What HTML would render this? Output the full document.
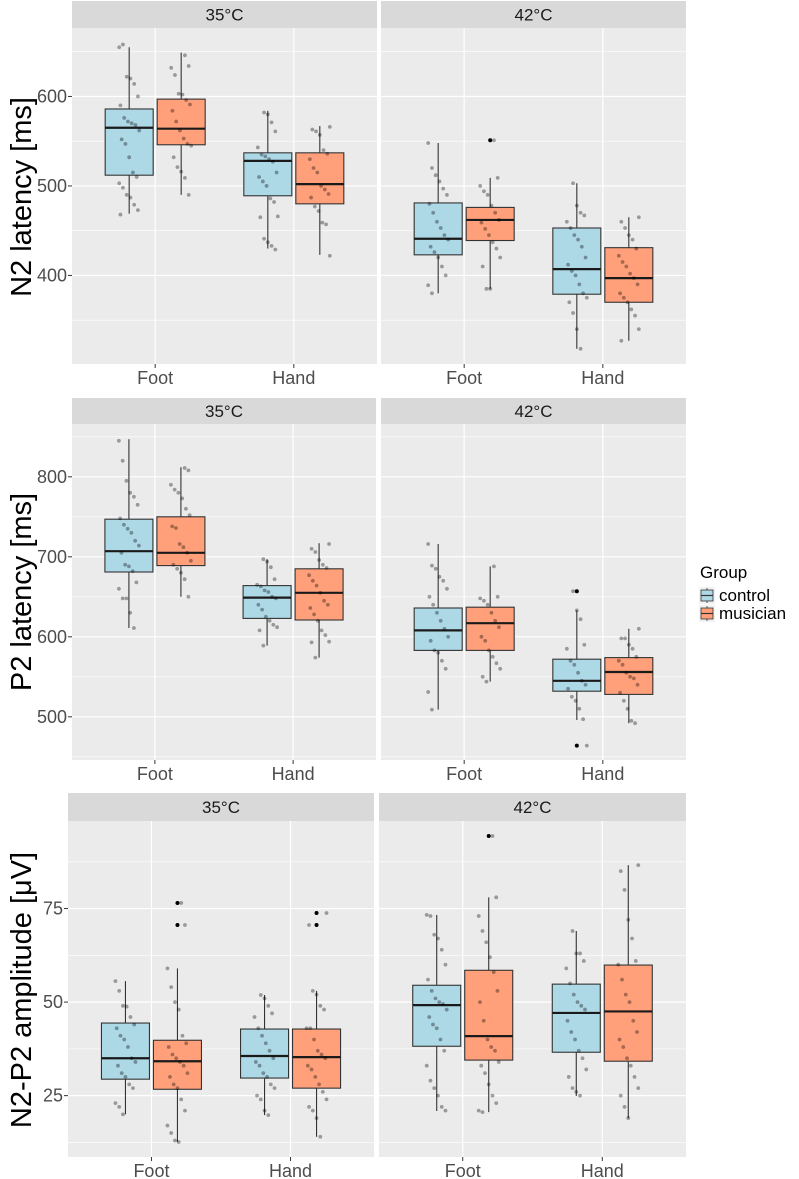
<!DOCTYPE html>
<html><head><meta charset="utf-8"><style>
html,body{margin:0;padding:0;background:#fff;}
svg{display:block;font-family:"Liberation Sans",Arial,sans-serif;}
</style></head><body>
<svg id="chart" width="799" height="1179" viewBox="0 0 799 1179" xmlns="http://www.w3.org/2000/svg"></svg>
<script>
// ---- data ----
const categories = ["Foot","Hand"];
const groups = ["control","musician"];
const temps = ["35°C","42°C"];
const yTitles = ["N2 latency [ms]","P2 latency [ms]","N2-P2 amplitude [μV]"];
const n2Ticks = [400,500,600];
const p2Ticks = [500,600,700,800];
const ampTicks = [25,50,75];
// box stats per box: [whiskerLow, q1, median, q3, whiskerHigh]; order Foot-control, Foot-musician, Hand-control, Hand-musician
const n2Box35 = [[469,512,565,586,655],[490,546,564,597,649],[430,489,528,537,584],[423,480,502,537,567]];
const n2Box42 = [[380,423,441,481,548],[385,439,462,476,509],[318,379,407,453,503],[327,370,397,431,465]];
const p2Box35 = [[611,681,707,747,847],[650,689,705,750,812],[589,623,649,664,697],[574,621,655,685,717]];
const p2Box42 = [[509,583,608,636,716],[544,583,617,637,688],[496,532,545,572,633],[492,528,556,574,610]];
const ampBox35 = [[20,29.4,35,44.4,55.6],[12.6,26.7,34.2,39.8,59],[19.8,29.7,35.6,42.8,51.9],[14,27,35.3,42.8,53]];
const ampBox42 = [[20.9,38.2,49.2,54.5,73.3],[20.6,34.5,40.9,58.5,78],[24.9,36.6,47.1,54.8,69],[19,34.2,47.5,59.9,86.6]];
const n2Out35 = [[],[],[],[]];
const n2Out42 = [[],[551],[],[]];
const p2Out35 = [[],[],[],[]];
const p2Out42 = [[],[],[657,464],[]];
const ampOut35 = [[],[76.5,70.6],[],[73.8,70.6]];
const ampOut42 = [[],[94.4],[],[]];
const n2Pts35 = [[655,658,622,620,614,600,590,576,572,570,568,562,552,547,532,515,510,503,498,490,487,479,473,468],
 [646,634,632,624,603,602,596,591,584,572,562,553,547,545,532,521,516,509,490],
 [582,580,571,561,543,535,533,530,527,515,510,505,500,486,482,466,465,441,437,433,429],
 [566,563,561,557,540,536,530,520,515,500,496,491,487,477,472,459,457,422]];
const n2Pts42 = [[548,520,512,505,497,490,480,470,460,453,445,440,432,426,420,410,400,389,380],
 [551,509,500,494,490,478,470,462,459,452,445,437,430,420,410,385,385],
 [503,478,470,467,460,453,445,440,432,420,412,405,400,390,380,375,370,358,340,318],
 [465,460,453,445,440,430,422,415,410,402,397,390,380,375,370,362,355,340,327]];
const p2Pts35 = [[845,820,795,780,775,765,748,740,735,730,720,714,705,690,688,682,668,660,648,648,630,611],
 [811,808,790,784,780,773,760,752,738,736,716,712,705,695,690,685,680,672,650],
 [697,694,687,672,665,663,658,656,650,648,640,634,625,620,615,612,608,589],
 [716,710,706,696,690,686,677,670,664,655,645,640,636,628,620,608,602,594,593,574]];
const p2Pts42 = [[716,689,685,675,670,660,650,640,630,620,610,600,595,583,580,570,560,531,509],
 [688,650,648,645,640,630,620,612,600,595,583,575,567,560,550,544],
 [657,633,622,590,585,570,565,555,545,540,535,525,520,510,497,464],
 [610,598,598,590,585,575,570,565,555,550,548,540,530,520,510,495,492]];
const ampPts35 = [[55.6,53,49,48.8,46,44,43,41,40,38,35,34,33,31,30,28,27,23,22,20],
 [76.5,70.6,59,54,50,48,41,39,38,36,35,34,33,31,30,28,27,24,21,17,15,13,12.6],
 [51.9,51,49,47,46,43,41,39,37,35,34,33,31,30,28,27,25,24,21,19.8],
 [73.8,70.6,53,52,49,48,43,43,40,37,36,35,33,32,30,28,26,24,22,21,19,14]];
const ampPts42 = [[73.3,73,68,67,64,60,56,53,51,50,49.5,48,46,44,43,40,37,33,29,27,25,22,21],
 [94.4,78,73,69,66,62,58,53,50,45,40,38,37,34,33,31,28,25,23,21,20.6],
 [69,63,63,61,59,55,52,50,49,48,45,42,40,37,35,32,30,27,26,25],
 [86.6,85,80,72,67,61,60,56,52,50,45,42,40,38,35,33,30,27,25,22,19]];

// ---- layout ----
const rows = [
 {title:yTitles[0], ticks:n2Ticks, minorStep:50, dom:[301,676.5], top:28, bottom:364, stripTop:1, panels:[[72,377],[381,686]], tcx:31, tcy:197,
  boxes:[n2Box35,n2Box42], outs:[n2Out35,n2Out42], pts:[n2Pts35,n2Pts42]},
 {title:yTitles[1], ticks:p2Ticks, minorStep:50, dom:[446,866], top:424, bottom:760, stripTop:398, panels:[[72,376],[381,686]], tcx:31, tcy:592,
  boxes:[p2Box35,p2Box42], outs:[p2Out35,p2Out42], pts:[p2Pts35,p2Pts42]},
 {title:yTitles[2], ticks:ampTicks, minorStep:12.5, dom:[8.6,98.4], top:821, bottom:1157, stripTop:793, panels:[[68,374],[379,686]], tcx:31, tcy:990,
  boxes:[ampBox35,ampBox42], outs:[ampOut35,ampOut42], pts:[ampPts35,ampPts42]}
];
const colors = {control:"#add8e6", musician:"#ffa07a"};
const NS = "http://www.w3.org/2000/svg";
const svg = document.getElementById("chart");
function mk(tag, attrs, parent){
  const e = document.createElementNS(NS, tag);
  for (const k in attrs) e.setAttribute(k, attrs[k]);
  (parent||svg).appendChild(e);
  return e;
}

rows.forEach((row, ri) => {
  const y = v => row.bottom - (v - row.dom[0]) / (row.dom[1] - row.dom[0]) * (row.bottom - row.top);
  const rowG = mk("g", {});
  
  
  // y title
  const yt = mk("text", {transform:`translate(${row.tcx},${row.tcy}) rotate(-90)`, "text-anchor":"middle", "font-size":"29", fill:"#000"}, rowG);
  yt.textContent = row.title;
  
  
  // y ticks (left)
  const lx = row.panels[0][0];
  row.ticks.forEach(t => {
    mk("line", {x1:lx-4, x2:lx, y1:y(t), y2:y(t), stroke:"#333", "stroke-width":1}, rowG);
    const tl = mk("text", {x:lx-5, y:y(t)+6, "text-anchor":"end", "font-size":"18", fill:"#4d4d4d"}, rowG);
    tl.textContent = t;
    
    
  });
  row.panels.forEach((p, pi) => {
    const [x0, x1] = p;
    const W = x1 - x0;
    const cx = ci => x0 + W * (0.6 + ci) / 2.2;
    const pg = mk("g", {}, rowG);
    
    
    // strip
    const st = mk("rect", {x:x0, y:row.stripTop, width:W, height:row.top-row.stripTop, fill:"#d9d9d9"}, pg);
    
    
    const stt = mk("text", {x:x0+W/2, y:(row.stripTop+row.top)/2+6, "text-anchor":"middle", "font-size":"17", fill:"#1a1a1a"}, pg);
    stt.textContent = temps[pi];
    
    
    // background
    const bg = mk("rect", {x:x0, y:row.top, width:W, height:row.bottom-row.top, fill:"#ebebeb"}, pg);
    
    
    // minor grid
    for (let v = Math.ceil(row.dom[0]/row.minorStep)*row.minorStep; v <= row.dom[1]; v += row.minorStep) {
      const major = row.ticks.includes(v) || Math.abs(v/(row.minorStep*2) - Math.round(v/(row.minorStep*2))) < 1e-6;
      mk("line", {x1:x0, x2:x1, y1:y(v), y2:y(v), stroke:"#fff", "stroke-width": major ? 1.2 : 0.6}, pg);
    }
    categories.forEach((c, ci) => {
      mk("line", {x1:cx(ci), x2:cx(ci), y1:row.top, y2:row.bottom, stroke:"#fff", "stroke-width":1.2}, pg);
      mk("line", {x1:cx(ci), x2:cx(ci), y1:row.bottom, y2:row.bottom+4, stroke:"#333", "stroke-width":1}, pg);
      const xl = mk("text", {x:cx(ci), y:row.bottom+20, "text-anchor":"middle", "font-size":"18", fill:"#4d4d4d"}, pg);
      xl.textContent = c;
      
      
    });
    // boxes
    const boxes = row.boxes[pi];
    boxes.forEach((b, bi) => {
      const ci = Math.floor(bi/2), gi = bi % 2;
      const bx = cx(ci) + (gi === 0 ? -26 : 26);
      const g = mk("g", {}, pg);
      
      
      mk("line", {x1:bx, x2:bx, y1:y(b[4]), y2:y(b[3]), stroke:"#333", "stroke-width":1.1}, g);
      mk("line", {x1:bx, x2:bx, y1:y(b[1]), y2:y(b[0]), stroke:"#333", "stroke-width":1.1}, g);
      mk("rect", {x:bx-24, y:y(b[3]), width:48, height:y(b[1])-y(b[3]), fill:colors[groups[gi]], stroke:"#333", "stroke-width":1.1}, g);
      mk("line", {x1:bx-24, x2:bx+24, y1:y(b[2]), y2:y(b[2]), stroke:"#1a1a1a", "stroke-width":2.2}, g);
      row.outs[pi][bi].forEach(o => {
        const od = mk("circle", {cx:bx, cy:y(o), r:2, fill:"#000"}, g);
        
        
      });
      row.pts[pi][bi].forEach((v, k) => {
        const jx = (((k*37 + bi*11) % 17) - 8) / 8 * 10;
        const pt = mk("circle", {cx:bx + jx, cy:y(v), r:1.9, fill:"rgba(0,0,0,0.35)"}, g);
        
        
      });
    });
  });
});

// legend
const lg = mk("g", {});


const lt = mk("text", {x:700, y:578, "font-size":"17", fill:"#000"}, lg);
lt.textContent = "Group";


groups.forEach((g, i) => {
  const ky = 587 + i*18;
  const e = mk("g", {}, lg);
  
  
  mk("rect", {x:699, y:ky, width:16, height:17, fill:"#f2f2f2"}, e);
  mk("line", {x1:707, x2:707, y1:ky+1, y2:ky+16, stroke:"#333", "stroke-width":0.8}, e);
  mk("rect", {x:701, y:ky+3, width:12, height:11, fill:colors[g], stroke:"#333", "stroke-width":0.8}, e);
  mk("line", {x1:701, x2:713, y1:ky+8.5, y2:ky+8.5, stroke:"#333", "stroke-width":1.2}, e);
  const t = mk("text", {x:719, y:ky+14, "font-size":"17", fill:"#000"}, e);
  t.textContent = g;
});
</script>
</body></html>
